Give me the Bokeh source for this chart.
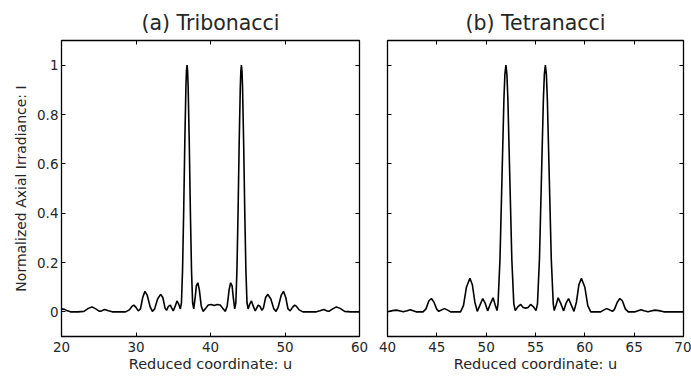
from bokeh.plotting import figure
from bokeh.models import ColumnDataSource, Range1d, LinearAxis, FixedTicker
from bokeh.layouts import row
from bokeh.embed import file_html
from bokeh.resources import INLINE

# ---------------- data ----------------
titles = ["(a) Tribonacci", "(b) Tetranacci"]
x_label = "Reduced coordinate: u"
y_label = "Normalized Axial Irradiance: I"

y_ticks = [0, 0.2, 0.4, 0.6, 0.8, 1]
y_tick_labels = ["0", "0.2", "0.4", "0.6", "0.8", "1"]
tri_xticks = [20, 30, 40, 50, 60]
tet_xticks = [40, 45, 50, 55, 60, 65, 70]

tri_u = [20.0, 20.4, 20.8, 21.2, 22.2, 23.0, 23.6, 24.1, 24.6, 25.1, 25.4, 25.8, 26.3, 26.8,
         28.6, 29.1, 29.45, 29.7, 30.0, 30.3, 30.6, 30.9, 31.2, 31.5, 31.9, 32.2, 32.5, 32.9,
         33.3, 33.6, 33.9, 34.1, 34.35, 34.6, 34.8, 35.0, 35.25, 35.5, 35.75, 35.95,
         36.1, 36.25, 36.4, 36.55, 36.7, 36.775, 36.85, 36.925, 37.0, 37.15, 37.3, 37.45, 37.6,
         37.75, 37.95, 38.1, 38.3, 38.5, 38.75, 39.0, 39.3, 39.7, 40.1, 40.5, 40.9, 41.3, 41.7,
         42.0, 42.25, 42.5, 42.7, 42.9, 43.05, 43.25,
         43.4, 43.55, 43.7, 43.85, 44.0, 44.075, 44.15, 44.225, 44.3, 44.45, 44.6, 44.75, 44.9,
         45.05, 45.25, 45.5, 45.75, 46.0, 46.2, 46.4, 46.65, 46.9, 47.1, 47.4, 47.7, 48.1,
         48.5, 48.8, 49.1, 49.5, 49.8, 50.1, 50.4, 50.7, 51.0, 51.3, 51.55, 51.9, 52.4,
         54.2, 54.7, 55.2, 55.6, 55.9, 56.4, 56.9, 57.4, 58.0, 58.8, 60.0]
tri_I = [0.012, 0.010, 0.004, 0.000, 0.000, 0.002, 0.014, 0.020, 0.012, 0.002, 0.004, 0.009, 0.004, 0.000,
         0.000, 0.008, 0.022, 0.027, 0.018, 0.004, 0.012, 0.058, 0.083, 0.068, 0.020, 0.002, 0.012, 0.052,
         0.071, 0.058, 0.015, 0.006, 0.022, 0.027, 0.015, 0.004, 0.022, 0.044, 0.030, 0.012,
         0.036, 0.171, 0.405, 0.684, 0.912, 0.977, 1.000, 0.977, 0.912, 0.684, 0.405, 0.171, 0.036,
         0.012, 0.060, 0.105, 0.118, 0.090, 0.025, 0.002, 0.012, 0.028, 0.030, 0.026, 0.030, 0.028, 0.012,
         0.002, 0.025, 0.090, 0.118, 0.105, 0.060, 0.012,
         0.036, 0.171, 0.405, 0.684, 0.912, 0.977, 1.000, 0.977, 0.912, 0.684, 0.405, 0.171, 0.036,
         0.012, 0.030, 0.044, 0.022, 0.004, 0.015, 0.027, 0.022, 0.006, 0.015, 0.058, 0.071, 0.052,
         0.012, 0.002, 0.020, 0.068, 0.083, 0.058, 0.012, 0.004, 0.018, 0.027, 0.022, 0.008, 0.000,
         0.000, 0.004, 0.009, 0.004, 0.002, 0.012, 0.020, 0.014, 0.002, 0.000, 0.000]

tet_u = [40.0, 40.5, 40.9, 41.3, 41.6, 42.0, 42.3, 42.6, 42.9, 43.6, 43.9, 44.2, 44.45, 44.7,
         45.0, 45.2, 45.5, 45.8, 46.1, 46.4, 47.4, 47.7, 48.0, 48.35, 48.6, 48.85, 49.1, 49.35,
         49.65, 49.9, 50.15, 50.4, 50.7, 50.9, 51.1,
         51.2, 51.4, 51.6, 51.8, 51.9, 52.0, 52.1, 52.2, 52.4, 52.6, 52.8,
         52.95, 53.2, 53.5, 53.75, 54.0, 54.25, 54.5, 54.8, 55.05,
         55.2, 55.4, 55.6, 55.8, 55.9, 56.0, 56.1, 56.2, 56.4, 56.6, 56.8,
         56.9, 57.1, 57.3, 57.6, 57.85, 58.1, 58.35, 58.65, 58.9, 59.15, 59.4, 59.65, 60.0,
         60.3, 60.6, 61.6, 61.9, 62.2, 62.5, 62.8, 63.0, 63.3, 63.55, 63.8, 64.1, 64.4,
         65.1, 65.4, 65.7, 66.0, 66.4, 66.7, 67.1, 67.5, 68.0, 70.0]
tet_I = [0.000, 0.005, 0.007, 0.003, 0.000, 0.004, 0.008, 0.004, 0.000, 0.000, 0.012, 0.045, 0.054, 0.040,
         0.010, 0.002, 0.008, 0.013, 0.007, 0.000, 0.000, 0.025, 0.100, 0.136, 0.110, 0.040, 0.002, 0.025,
         0.054, 0.035, 0.004, 0.030, 0.057, 0.030, 0.005,
         0.032, 0.213, 0.537, 0.863, 0.964, 1.000, 0.964, 0.863, 0.537, 0.213, 0.032,
         0.005, 0.020, 0.030, 0.018, 0.015, 0.018, 0.030, 0.020, 0.005,
         0.032, 0.213, 0.537, 0.863, 0.964, 1.000, 0.964, 0.863, 0.537, 0.213, 0.032,
         0.005, 0.030, 0.057, 0.030, 0.004, 0.035, 0.054, 0.025, 0.002, 0.040, 0.110, 0.136, 0.100,
         0.025, 0.000, 0.000, 0.007, 0.013, 0.008, 0.002, 0.010, 0.040, 0.054, 0.045, 0.012, 0.000,
         0.000, 0.004, 0.008, 0.004, 0.000, 0.003, 0.007, 0.005, 0.000, 0.000]

FONT = "DejaVu Sans"
TXT = "#262626"
FIG_H = 377
BORDER_TOP = 40
BORDER_BOTTOM = 41


def hide_labels(ax, ticks):
    # tick marks only: blank tick labels that take no room
    ax.major_label_overrides = {t: "" for t in ticks}
    ax.major_label_text_font_size = "1px"
    ax.major_label_standoff = 0


def style_axis(ax):
    ax.axis_line_color = None
    ax.major_tick_in = 4
    ax.major_tick_out = 0
    ax.major_tick_line_color = "black"
    ax.major_tick_line_width = 1
    ax.minor_tick_line_color = None
    ax.major_label_text_font = FONT
    ax.major_label_text_font_size = "13.5px"
    ax.major_label_text_color = TXT
    ax.axis_label_text_font = FONT
    ax.axis_label_text_font_style = "normal"
    ax.axis_label_text_color = TXT


def make_panel(title, xs, ys, xticks, width, bl, br, show_y):
    p = figure(width=width, height=FIG_H, output_backend="svg", toolbar_location=None,
               x_range=Range1d(xticks[0], xticks[-1]), y_range=Range1d(-0.1, 1.1),
               min_border_left=bl, min_border_right=br,
               min_border_top=BORDER_TOP, min_border_bottom=BORDER_BOTTOM)
    p.background_fill_color = "white"
    p.border_fill_color = "white"
    p.outline_line_color = "black"
    p.outline_line_width = 1.3
    p.xgrid.grid_line_color = None
    p.ygrid.grid_line_color = None

    p.title.text = title
    p.title.align = "center"
    p.title.text_font = FONT
    p.title.text_font_size = "20.5px"
    p.title.text_font_style = "normal"
    p.title.text_color = TXT
    p.title.standoff = 12

    p.xaxis.ticker = FixedTicker(ticks=xticks)
    p.yaxis.ticker = FixedTicker(ticks=y_ticks)
    for ax in list(p.xaxis) + list(p.yaxis):
        style_axis(ax)
    for ax in p.xaxis:
        ax.major_label_standoff = 5
        ax.axis_label = x_label
        ax.axis_label_text_font_size = "14.5px"
        ax.axis_label_standoff = 1
    for ax in p.yaxis:
        if show_y:
            ax.major_label_overrides = {t: s for t, s in zip(y_ticks, y_tick_labels)}
            ax.major_label_standoff = 3
            ax.axis_label = y_label
            ax.axis_label_text_font_size = "14px"
            ax.axis_label_standoff = 5
        else:
            hide_labels(ax, y_ticks)

    top = LinearAxis(ticker=FixedTicker(ticks=xticks))
    right = LinearAxis(ticker=FixedTicker(ticks=y_ticks))
    style_axis(top)
    style_axis(right)
    hide_labels(top, xticks)
    hide_labels(right, y_ticks)
    p.add_layout(top, "above")
    p.add_layout(right, "right")

    src = ColumnDataSource(data=dict(u=xs, I=ys))
    p.line("u", "I", source=src, line_color="black", line_width=1.6)
    return p


p1 = make_panel(titles[0], tri_u, tri_I, tri_xticks, 373, 61, 14, True)
p2 = make_panel(titles[1], tet_u, tet_I, tet_xticks, 318, 14, 8, False)

layout = row(p1, p2)
open("out.html", "w").write(file_html(layout, INLINE))
